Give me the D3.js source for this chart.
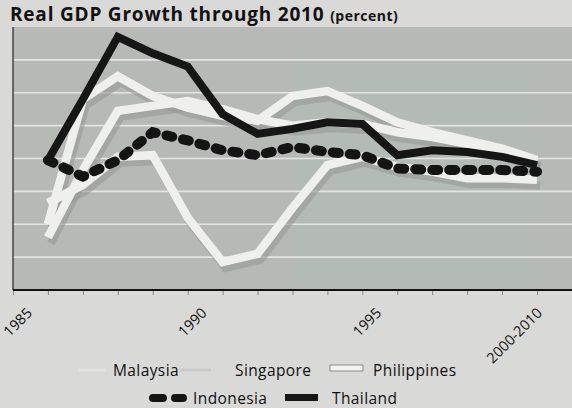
<!DOCTYPE html>
<html><head><meta charset="utf-8">
<script src="https://cdn.jsdelivr.net/npm/d3@7"></script>
<style>
html,body{margin:0;padding:0;background:#d9d9d7;}
svg{display:block;}
text{font-family:"Open Sans",Lato,sans-serif;fill:#111;}
</style></head><body>
<svg id="c" width="572" height="408"></svg>
<script>
const years = ["1985","1986","1987","1988","1989","1990","1991","1992","1993","1994","1995","1996","1997","1998","1999","2000-2010"];
const tickLabels = ["1985","1990","1995","2000-2010"];
const yTicks = [-2,0,2,4,6,8,10,12,14];
const malaysia    = [null, 1.2, 5.3, 8.9, 9.2, 9.5, 9.0, 8.4, 8.0, 8.2, 8.1, 7.6, 7.3, 6.9, 6.5, 5.8];
const singapore   = [null, 2.0, 9.6, 11.0, 9.8, 9.1, 8.6, 8.3, 9.8, 10.1, 9.2, 8.2, 7.6, 7.1, 6.6, 5.9];
const philippines = [null, 3.3, 4.4, 6.1, 6.2, 2.4, -0.3, 0.2, 3.0, 5.6, 6.1, 5.5, 5.2, 4.8, 4.8, 4.7];
const indonesia   = [null, 5.9, 4.9, 5.9, 7.6, 7.1, 6.5, 6.2, 6.7, 6.4, 6.2, 5.4, 5.3, 5.3, 5.3, 5.2];
const thailand    = [null, 5.9, 9.6, 13.4, 12.4, 11.6, 8.7, 7.5, 7.8, 8.2, 8.1, 6.2, 6.5, 6.4, 6.1, 5.6];
const seriesNames = ["Malaysia","Singapore","Philippines","Indonesia","Thailand"];

const svg = d3.select("#c");
const W = 572;
const plot = {left:13, top:27, right:590, bottom:290};

const x = d3.scalePoint().domain(years).range([13, 537]);
const y = d3.scaleLinear().domain([-2,14]).range([plot.bottom, plot.top]);

svg.append("rect").attr("x",plot.left).attr("y",plot.top)
  .attr("width",plot.right-plot.left).attr("height",plot.bottom-plot.top)
  .attr("fill","#b7b9b7");
svg.append("rect").attr("x",x("1993")).attr("y",y(12.5))
  .attr("width",250).attr("height",y(-2)-y(12.5)).attr("fill","#b2bcb8").attr("opacity",0.6);

svg.append("g").selectAll("line").data(yTicks.filter(d=>d>-2 && d<14)).join("line")
  .attr("x1",plot.left).attr("x2",plot.right)
  .attr("y1",d=>y(d)).attr("y2",d=>y(d))
  .attr("stroke","#e4e4e4").attr("stroke-width",1.6);

const xAxis = d3.axisBottom(x).tickSize(5).tickFormat("");
const gx = svg.append("g").attr("transform",`translate(0,${plot.bottom})`).call(xAxis);
gx.select(".domain").remove();
gx.selectAll(".tick line").attr("stroke","#888");
svg.append("line").attr("x1",plot.left).attr("x2",plot.right).attr("y1",plot.bottom).attr("y2",plot.bottom)
  .attr("stroke","#111").attr("stroke-width",2);
svg.append("line").attr("x1",plot.left).attr("x2",plot.left).attr("y1",plot.top).attr("y2",plot.bottom)
  .attr("stroke","#222").attr("stroke-width",1.2);

svg.append("g").selectAll("text").data(tickLabels).join("text")
  .attr("transform",d=>`translate(${Math.min(x(d)+20, W-29)},314) rotate(-45)`)
  .attr("text-anchor","end")
  .attr("font-size",14.5)
  .text(d=>d);

const line = d3.line()
  .defined(d=>d!=null)
  .x((d,i)=>x(years[i]))
  .y(d=>y(d));

const whites = [malaysia, singapore, philippines];
svg.append("g").attr("transform","translate(3,6)").selectAll("path").data(whites).join("path")
  .attr("d",line).attr("fill","none").attr("stroke","#989a98").attr("stroke-opacity",0.6)
  .attr("stroke-width",8).attr("stroke-linejoin","miter");
svg.append("g").selectAll("path").data(whites).join("path")
  .attr("d",line).attr("fill","none").attr("stroke","#efefed")
  .attr("stroke-width",8.5).attr("stroke-linejoin","miter");

svg.append("path").datum(indonesia).attr("d",line).attr("fill","none")
  .attr("stroke","#141414").attr("stroke-width",10).attr("stroke-linecap","round")
  .attr("stroke-dasharray","6,11");
svg.append("path").datum(thailand).attr("d",line).attr("fill","none")
  .attr("stroke","#161616").attr("stroke-width",8).attr("stroke-linejoin","miter");

const t = svg.append("text").attr("x",10).attr("y",21);
t.append("tspan").attr("font-size",19).attr("font-weight","bold").attr("letter-spacing",0.8).text("Real GDP Growth through 2010 ");
t.append("tspan").attr("font-size",14).attr("font-weight","bold").attr("letter-spacing",0.5).text("(percent)");

const lg = svg.append("g").attr("font-size",15.5).attr("letter-spacing",0.4);
lg.append("line").attr("x1",78).attr("x2",106).attr("y1",370).attr("y2",370).attr("stroke","#e2e2e0").attr("stroke-width",3);
lg.append("text").attr("x",113).attr("y",376).text(seriesNames[0]);
lg.append("line").attr("x1",180).attr("x2",211).attr("y1",370).attr("y2",370).attr("stroke","#cacaca").attr("stroke-width",3);
lg.append("text").attr("x",235).attr("y",376).text(seriesNames[1]);
lg.append("rect").attr("x",330).attr("y",365).attr("width",33).attr("height",6).attr("fill","#f4f4f4").attr("stroke","#777").attr("stroke-width",0.8);
lg.append("text").attr("x",373).attr("y",376).text(seriesNames[2]);
lg.append("line").attr("x1",153).attr("x2",183).attr("y1",398).attr("y2",398)
  .attr("stroke","#141414").attr("stroke-width",8).attr("stroke-linecap","round").attr("stroke-dasharray","10,12");
lg.append("text").attr("x",193).attr("y",404).text(seriesNames[3]);
lg.append("rect").attr("x",285).attr("y",394).attr("width",33).attr("height",7).attr("fill","#161616");
lg.append("text").attr("x",332).attr("y",404).text(seriesNames[4]);
</script>
</body></html>
